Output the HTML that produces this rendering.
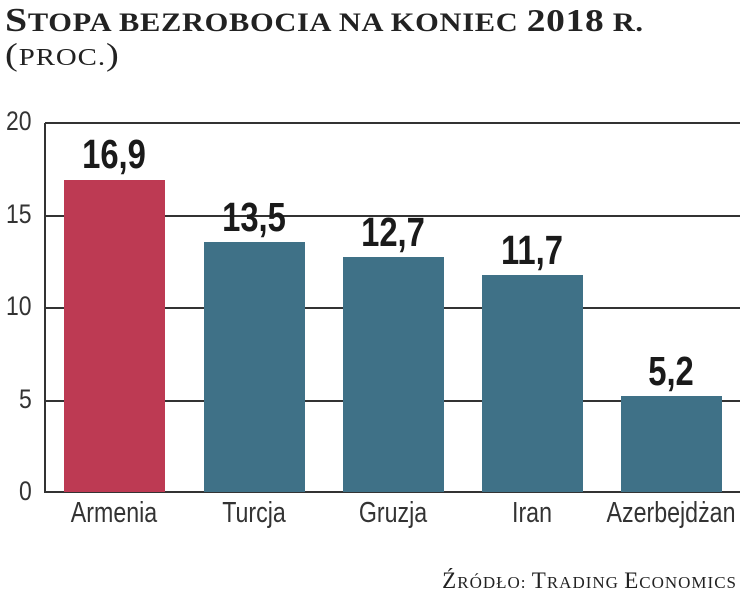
<!DOCTYPE html>
<html><head><meta charset="utf-8"><style>
body{margin:0;width:743px;height:593px;background:#fff;overflow:hidden;position:relative;font-family:"Liberation Sans",sans-serif}
.t{position:absolute;font-family:"Liberation Serif",serif;color:#222;white-space:nowrap;text-transform:uppercase}
.gl{position:absolute;left:45px;width:695px;height:2px;background:#333}
.yl{position:absolute;left:6px;width:32px;font-size:27px;color:#333;line-height:26px;transform:scaleX(0.85);transform-origin:left}
.bar{position:absolute;width:101px;background:#3f7187}
.v{position:absolute;width:140px;text-align:center;font-weight:bold;font-size:41px;color:#1a1a1a;line-height:36px;transform:scaleX(0.8)}
.x{position:absolute;width:180px;text-align:center;font-size:29px;color:#333;top:498px;line-height:30px;transform:scaleX(0.8)}
</style></head><body>
<div class="t" style="left:5px;top:2px;font-size:26px;font-weight:bold;letter-spacing:0.6px;transform:scaleX(1.17);transform-origin:left"><span style="font-size:34px">S</span>topa bezrobocia na koniec <span style="font-size:32px">2018</span> r.</div>
<div class="t" style="left:5px;top:36px;font-size:24px;letter-spacing:0.8px;transform:scaleX(1.2);transform-origin:left"><span style="font-size:32px">(</span>proc.<span style="font-size:32px">)</span></div>
<div style="position:absolute;left:44px;top:123px;width:2px;height:370px;background:#333"></div>
<div class="gl" style="top:122px"></div>
<div class="gl" style="top:215px"></div>
<div class="gl" style="top:307px"></div>
<div class="gl" style="top:400px"></div>
<div class="gl" style="top:491px"></div>
<div class="yl" style="top:108px">20</div>
<div class="yl" style="top:201px">15</div>
<div class="yl" style="top:293px">10</div>
<div class="yl" style="top:386px;left:19px">5</div>
<div class="yl" style="top:478px;left:19px">0</div>
<div class="bar" style="left:64px;top:180px;height:312px;background:#bd3a53"></div>
<div class="bar" style="left:204px;top:242px;height:250px"></div>
<div class="bar" style="left:343px;top:257px;height:235px"></div>
<div class="bar" style="left:482px;top:275px;height:217px"></div>
<div class="bar" style="left:621px;top:396px;height:96px"></div>
<div class="v" style="left:44px;top:136px">16,9</div>
<div class="v" style="left:184px;top:199px">13,5</div>
<div class="v" style="left:323px;top:214px">12,7</div>
<div class="v" style="left:462px;top:232px">11,7</div>
<div class="v" style="left:601px;top:353px">5,2</div>
<div class="x" style="left:24px">Armenia</div>
<div class="x" style="left:164px">Turcja</div>
<div class="x" style="left:303px">Gruzja</div>
<div class="x" style="left:442px">Iran</div>
<div class="x" style="left:581px">Azerbejdżan</div>
<div class="t" style="right:6px;top:568px;font-size:17px;letter-spacing:1px"><span style="font-size:23px">Ź</span>ródło: <span style="font-size:23px">T</span>rading <span style="font-size:23px">E</span>conomics</div>
</body></html>
